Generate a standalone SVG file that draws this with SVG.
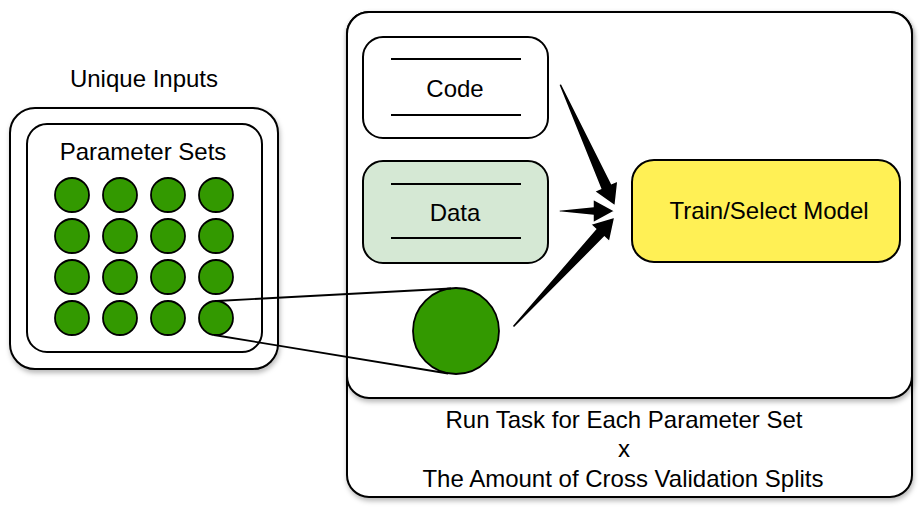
<svg xmlns="http://www.w3.org/2000/svg" width="924" height="509" viewBox="0 0 924 509">
<defs>
<filter id="sh" x="-10%" y="-10%" width="120%" height="120%">
<feDropShadow dx="1" dy="3" stdDeviation="2.5" flood-color="#000" flood-opacity="0.28"/>
</filter>
</defs>
<style>
text{font-family:"Liberation Sans",Arial,Helvetica,sans-serif;font-size:24px;fill:#000;text-anchor:middle}
.box{fill:#fff;stroke:#000;stroke-width:2}
.ln{stroke:#000;stroke-width:1.8;fill:none}
.dot{fill:#339900;stroke:#000;stroke-width:1.8}
.arr{fill:#000;stroke:#fff;stroke-width:1.5;stroke-linejoin:miter}
</style>
<rect width="924" height="509" fill="#fff"/>

<g id="task-outer">
<rect class="box" x="347" y="12" width="565" height="485" rx="22" filter="url(#sh)"/>
<text x="624" y="428">Run Task for Each Parameter Set</text>
<text x="624" y="457">x</text>
<text x="623" y="487">The Amount of Cross Validation Splits</text>
</g>
<g id="task-inner">
<rect class="box" x="347" y="12" width="565" height="386" rx="22" filter="url(#sh)"/>
</g>

<g id="unique-inputs">
<text x="144" y="87">Unique Inputs</text>
<rect class="box" x="10" y="108" width="268" height="261" rx="25" filter="url(#sh)"/>
</g>
<g id="parameter-sets">
<rect class="box" x="27" y="124" width="235" height="228" rx="20"/>
<text x="143" y="160">Parameter Sets</text>
<circle class="dot" cx="72" cy="195" r="17"/>
<circle class="dot" cx="120" cy="195" r="17"/>
<circle class="dot" cx="168" cy="195" r="17"/>
<circle class="dot" cx="216" cy="195" r="17"/>
<circle class="dot" cx="72" cy="236" r="17"/>
<circle class="dot" cx="120" cy="236" r="17"/>
<circle class="dot" cx="168" cy="236" r="17"/>
<circle class="dot" cx="216" cy="236" r="17"/>
<circle class="dot" cx="72" cy="277" r="17"/>
<circle class="dot" cx="120" cy="277" r="17"/>
<circle class="dot" cx="168" cy="277" r="17"/>
<circle class="dot" cx="216" cy="277" r="17"/>
<circle class="dot" cx="72" cy="318" r="17"/>
<circle class="dot" cx="120" cy="318" r="17"/>
<circle class="dot" cx="168" cy="318" r="17"/>
<circle class="dot" cx="216" cy="318" r="17"/>
</g>

<g id="code">
<rect class="box" x="363" y="37" width="185" height="101" rx="20"/>
<line class="ln" x1="391" y1="59" x2="521" y2="59"/>
<line class="ln" x1="391" y1="115" x2="521" y2="115"/>
<text x="455" y="97">Code</text>
</g>
<g id="data">
<rect class="box" x="363" y="161" width="185" height="102" rx="20" style="fill:#d5e8d4"/>
<line class="ln" x1="391" y1="184" x2="521" y2="184"/>
<line class="ln" x1="391" y1="238" x2="521" y2="238"/>
<text x="455" y="221">Data</text>
</g>
<g id="train">
<rect class="box" x="632" y="160" width="268" height="102" rx="22" style="fill:#fff055"/>
<text x="769" y="219">Train/Select Model</text>
</g>
<g id="selected-set">
<circle class="dot" cx="456" cy="331" r="43"/>
</g>

<g id="connectors">
<line class="ln" x1="217" y1="301" x2="451" y2="288.5"/>
<line class="ln" x1="214" y1="335" x2="448" y2="373.5"/>
<path class="arr" transform="translate(560,84) rotate(65.7)" d="M0,-1.5 L112,-6 L112,-13 L134,0 L112,13 L112,6 L0,1.5 Z"/>
<path class="arr" transform="translate(559,211)" d="M0,-1 L34,-4.5 L34,-12 L56,0 L34,12 L34,4.5 L0,1 Z"/>
<path class="arr" transform="translate(513,327) rotate(-47.2)" d="M0,-1.5 L128,-6 L128,-13 L150,0 L128,13 L128,6 L0,1.5 Z"/>
</g>
</svg>
